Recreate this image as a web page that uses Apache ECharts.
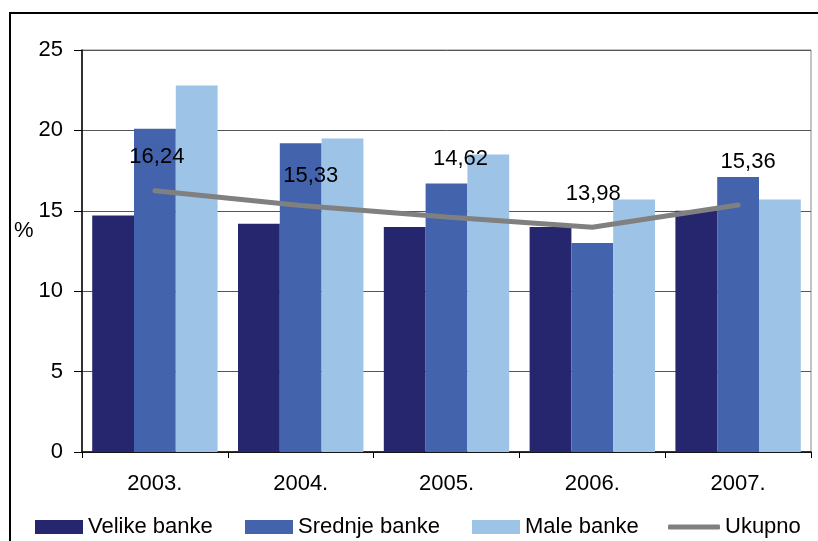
<!DOCTYPE html>
<html>
<head>
<meta charset="utf-8">
<script src="https://cdn.jsdelivr.net/npm/echarts@6/dist/echarts.min.js"></script>
<style>html,body{margin:0;padding:0;background:#fff}#c{width:818px;height:541px}</style>
</head>
<body>
<div id="c"></div>
<script>
var categories = ['2003.', '2004.', '2005.', '2006.', '2007.'];
var velike = [14.7, 14.2, 14.0, 14.0, 15.0];
var srednje = [20.1, 19.2, 16.7, 13.0, 17.1];
var male = [22.8, 19.5, 18.5, 15.7, 15.7];
var ukupno = [16.24, 15.33, 14.62, 13.98, 15.36];
var yTicks = [0, 5, 10, 15, 20, 25];

var labelNudge = [[2, -17], [10, -13], [14, -41], [1, -17], [10, -27]];
var FONT = '"Liberation Sans", Arial, sans-serif';

var chart = echarts.init(document.getElementById('c'));
function legendAt(name, left, opts) {
  return Object.assign({
    data: [name], left: left, top: 516, padding: 0, itemWidth: 48, itemHeight: 14,
    itemGap: 0, icon: 'rect', textStyle: { fontFamily: FONT, fontSize: 22, color: '#000' },
    selectedMode: false
  }, opts || {});
}
chart.setOption({
  animation: false,
  textStyle: { fontFamily: FONT },
  graphic: [{
    type: 'rect', shape: { x: 10, y: 13, width: 830, height: 560 },
    style: { fill: 'none', stroke: '#000', lineWidth: 2 }, z: 100
  }, {
    type: 'text', left: 14, top: 220,
    style: { text: '%', font: '22px "Liberation Sans", Arial, sans-serif', fill: '#000' }
  }],
  legend: [
    legendAt('Velike banke', 35),
    legendAt('Srednje banke', 245),
    legendAt('Male banke', 472),
    legendAt('Ukupno', 668, { itemWidth: 52, itemHeight: 5, icon: 'roundRect' })
  ],
  grid: { left: 82, right: 7, top: 50, bottom: 89, show: true, borderColor: '#888', borderWidth: 1 },
  xAxis: {
    type: 'category', data: categories,
    axisLine: { lineStyle: { color: '#000', width: 1.5 } },
    axisTick: { show: true, length: 6, lineStyle: { color: '#000' } },
    axisLabel: { fontSize: 22, color: '#000', margin: 21, fontFamily: FONT }
  },
  yAxis: {
    type: 'value', min: yTicks[0], max: yTicks[yTicks.length - 1], interval: 5,
    axisLine: { show: true, lineStyle: { color: '#000', width: 1.5 } },
    axisTick: { show: true, length: 8, lineStyle: { color: '#000' } },
    axisLabel: { fontSize: 22, color: '#000', margin: 19, fontFamily: FONT },
    splitLine: { lineStyle: { color: '#555', width: 1 } }
  },
  series: [
    { name: 'Velike banke', type: 'bar', data: velike, barGap: '0%', barCategoryGap: '14%', itemStyle: { color: '#26266E' } },
    { name: 'Srednje banke', type: 'bar', data: srednje, barGap: '0%', barCategoryGap: '14%', itemStyle: { color: '#4363AD' } },
    { name: 'Male banke', type: 'bar', data: male, barGap: '0%', barCategoryGap: '14%', itemStyle: { color: '#9DC3E6' } },
    {
      name: 'Ukupno', type: 'line', z: 5, symbol: 'circle', symbolSize: 1, showSymbol: true,
      lineStyle: { color: '#808080', width: 5, cap: 'round' },
      itemStyle: { color: '#808080' },
      data: ukupno.map(function (v, i) {
        return { value: v, label: { offset: labelNudge[i] } };
      }),
      label: {
        show: true, position: 'top', distance: 5, fontSize: 22, color: '#000', fontFamily: FONT,
        formatter: function (p) { return p.value.toFixed(2).replace('.', ','); }
      }
    }
  ]
});
</script>
</body>
</html>
